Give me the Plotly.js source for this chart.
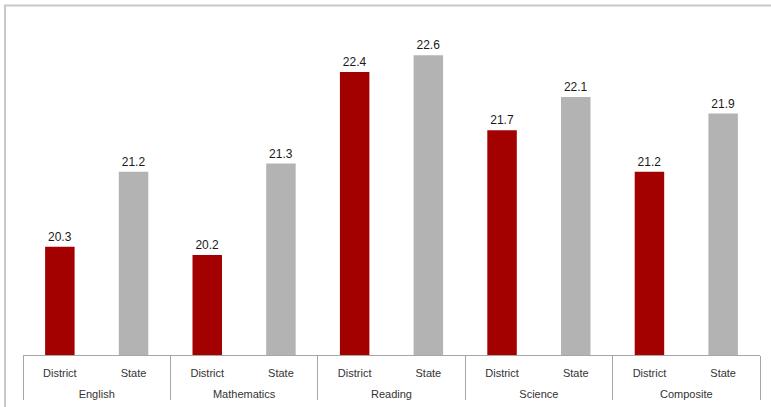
<!DOCTYPE html>
<html>
<head>
<meta charset="utf-8">
<script src="https://cdn.plot.ly/plotly-3.0.1.min.js"></script>
<style>html,body{margin:0;padding:0;background:#fff;}#chart{width:771px;height:407px;}</style>
</head>
<body>
<div id="chart"></div>
<script>
var subjects = ["English", "Mathematics", "Reading", "Science", "Composite"];
var groups = ["District", "State"];
var districtValues = [20.3, 20.2, 22.4, 21.7, 21.2];
var stateValues = [21.2, 21.3, 22.6, 22.1, 21.9];

var xOuter = [], xInner = [], yVals = [], colors = [];
for (var i = 0; i < subjects.length; i++) {
  // leading line break pushes the group label down below the sub-labels
  xOuter.push("<br>" + subjects[i], "<br>" + subjects[i]);
  xInner.push(groups[0], groups[1]);
  yVals.push(districtValues[i], stateValues[i]);
  colors.push("#a30000", "#b3b3b3");
}

var trace = {
  type: "bar",
  x: [xOuter, xInner],
  y: yVals,
  marker: {color: colors},
  text: yVals.map(function(v){return v.toFixed(1);}),
  textposition: "outside",
  cliponaxis: false,
  textfont: {family: "Liberation Sans, Arial, sans-serif", size: 12, color: "#1a1a1a"},
  width: 0.4,
  hoverinfo: "none"
};

var layout = {
  width: 771, height: 407,
  margin: {l: 23, r: 11, t: 22, b: 52},
  paper_bgcolor: "#fff", plot_bgcolor: "#fff",
  showlegend: false,
  font: {family: "Liberation Sans, Arial, sans-serif", size: 11, color: "#333"},
  xaxis: {
    type: "multicategory",
    showline: true, linecolor: "#a6a6a6", linewidth: 1,
    showdividers: true, dividercolor: "#a6a6a6", dividerwidth: 1,
    ticks: "", ticklabelstandoff: 8,
    showgrid: false, zeroline: false,
    tickfont: {size: 11, color: "#333"}
  },
  yaxis: {
    range: [19, 23], visible: false, showgrid: false, zeroline: false
  },
  shapes: [{
    type: "path", xref: "paper", yref: "paper",
    path: "M -0.0244 -0.2 L -0.0244 1.0498 L 1.03 1.0498",
    line: {color: "#c8c8c8", width: 2}
  }]
};

Plotly.newPlot("chart", [trace], layout, {displayModeBar: false, staticPlot: true});
</script>
</body>
</html>
